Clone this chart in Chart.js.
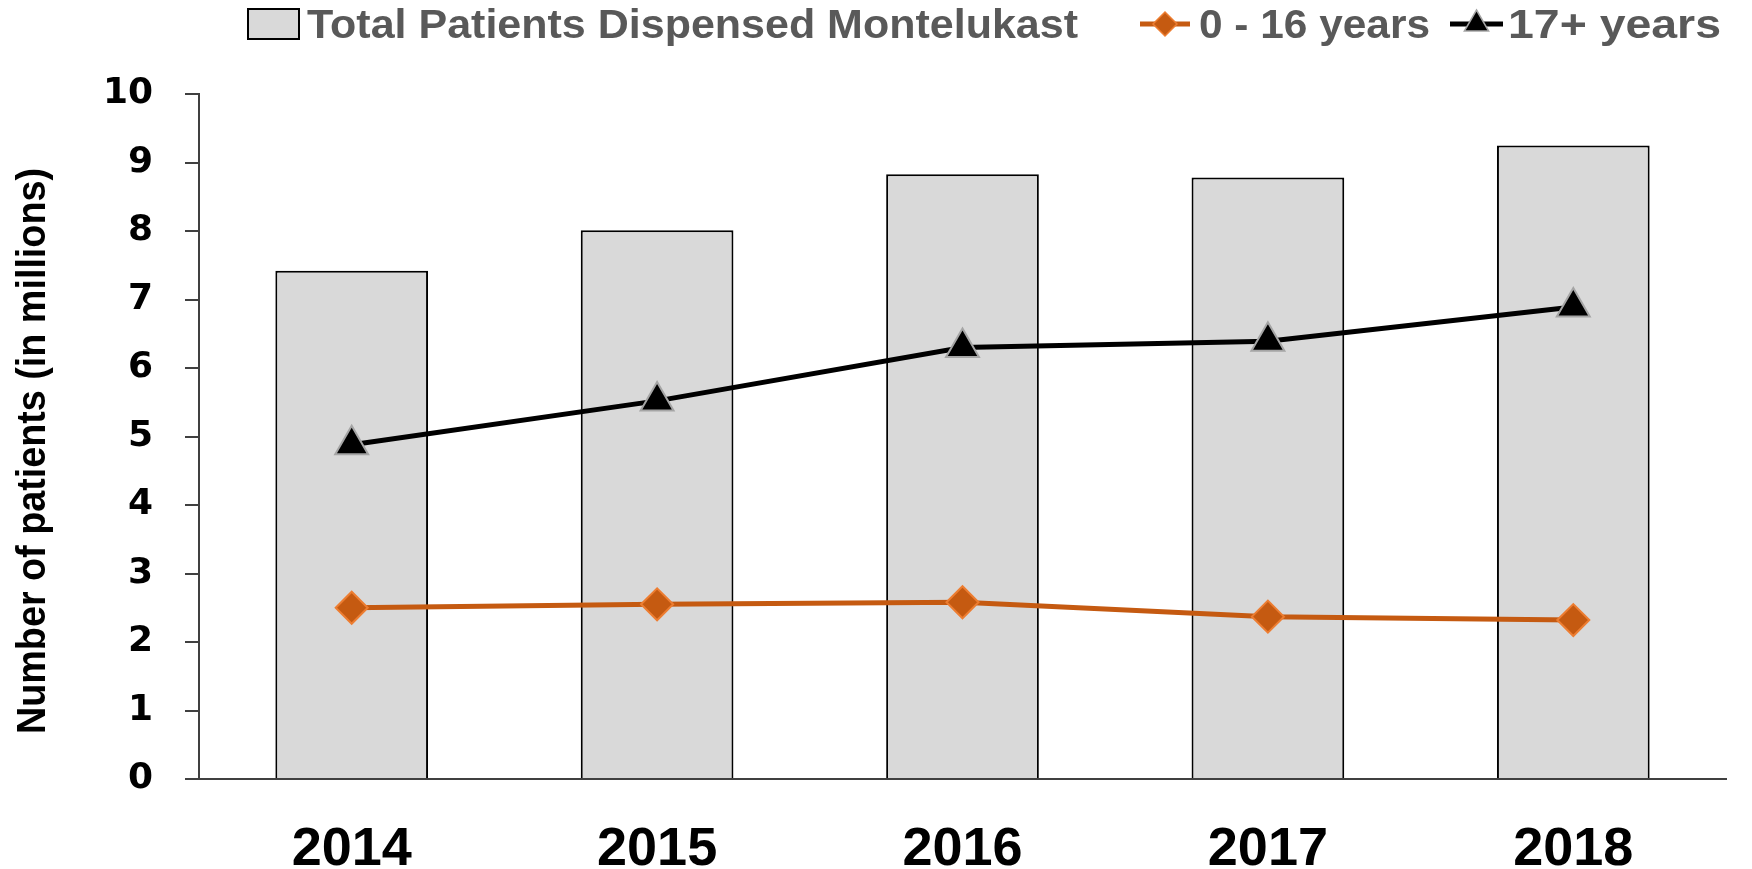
<!DOCTYPE html>
<html>
<head>
<meta charset="utf-8">
<script src="https://cdn.jsdelivr.net/npm/chart.js@4.4.1/dist/chart.umd.min.js"></script>
<style>
  html, body { margin: 0; padding: 0; background: #fff; }
  #graphe { display: block; }
</style>
</head>
<body>
<canvas id="graphe" width="1752" height="869"></canvas>
<script>
// --- Données ---
const annees = ['2014', '2015', '2016', '2017', '2018'];
const totalPatients = [7.42, 8.01, 8.83, 8.78, 9.25];
const enfants = [2.50, 2.55, 2.58, 2.37, 2.32];     // 0 - 16 ans
const adultes = [4.88, 5.52, 6.30, 6.39, 6.89];     // 17+ ans
const yMin = 0, yMax = 10, yPas = 1;
const titreY = 'Number of patients (in millions)';

const SANS = "'Liberation Sans', Arial, sans-serif";

// texte étroit : police normale compressée horizontalement à la largeur voulue
const texteEtroit = (ctx, txt, largeur) => {
    const w = ctx.measureText(txt).width;
    ctx.scale(largeur / w, 1);
    ctx.fillText(txt, 0, 0);
};

// Légende + titre de l'axe Y dessinés à la main
const legende = {
    id: 'legende',
    afterDraw(chart) {
        const ctx = chart.ctx;
        const ds = chart.data.datasets;
        const items = [
            { i: 0, type: 'box', x0: 248, x1: 299, tx: 307, tw: 771 },
            { i: 1, type: 'line', x0: 1140, x1: 1190, tx: 1199, tw: 231 },
            { i: 2, type: 'line', x0: 1450, x1: 1503, tx: 1508, tw: 213 },
        ];
        const yc = 24;
        ctx.save();
        items.forEach((it) => {
            const d = ds[it.i];
            if (it.type === 'box') {
                ctx.fillStyle = d.backgroundColor;
                ctx.strokeStyle = d.borderColor;
                ctx.lineWidth = 2;
                ctx.fillRect(it.x0, 9, it.x1 - it.x0, 30);
                ctx.strokeRect(it.x0, 9, it.x1 - it.x0, 30);
            } else {
                ctx.strokeStyle = d.borderColor;
                ctx.lineWidth = d.borderWidth;
                ctx.beginPath();
                ctx.moveTo(it.x0, yc);
                ctx.lineTo(it.x1, yc);
                ctx.stroke();
                ctx.fillStyle = d.pointBackgroundColor;
                ctx.strokeStyle = d.pointBorderColor;
                ctx.lineWidth = 1.5;
                Chart.helpers.drawPoint(ctx, {
                    pointStyle: d.pointStyle, rotation: 0,
                    radius: d.pointStyle === 'triangle' ? 14 : 12, borderWidth: 1.5,
                }, (it.x0 + it.x1) / 2, yc);
            }
            ctx.font = 'bold 41px ' + SANS;
            ctx.fillStyle = '#595959';
            ctx.textBaseline = 'alphabetic';
            ctx.save();
            ctx.translate(it.tx, 38);
            texteEtroit(ctx, d.label, it.tw);
            ctx.restore();
        });

        // titre Y (vertical)
        ctx.save();
        ctx.font = 'bold 41px ' + SANS;
        ctx.fillStyle = '#000';
        ctx.textBaseline = 'middle';
        ctx.translate(34, 734);
        ctx.rotate(-Math.PI / 2);
        texteEtroit(ctx, titreY, 566);
        ctx.restore();
        ctx.restore();
    },
};

new Chart(document.getElementById('graphe'), {
    type: 'bar',
    data: {
        labels: annees,
        datasets: [
            {
                type: 'bar',
                label: 'Total Patients Dispensed Montelukast',
                data: totalPatients,
                backgroundColor: '#D9D9D9',
                borderColor: '#000000',
                borderWidth: 2,
                categoryPercentage: 0.5,
                barPercentage: 1,
                order: 3,
            },
            {
                type: 'line',
                label: '0 - 16 years',
                data: enfants,
                borderColor: '#C55A11',
                borderWidth: 5,
                pointStyle: 'rectRot',
                pointRadius: 16,
                pointBackgroundColor: '#C55A11',
                pointBorderColor: '#ED7D31',
                pointBorderWidth: 2,
                tension: 0,
                order: 2,
            },
            {
                type: 'line',
                label: '17+ years',
                data: adultes,
                borderColor: '#000000',
                borderWidth: 5,
                pointStyle: 'triangle',
                pointRadius: 19,
                pointBackgroundColor: '#000000',
                pointBorderColor: '#A5A5A5',
                pointBorderWidth: 2,
                tension: 0,
                order: 1,
            },
        ],
    },
    options: {
        responsive: false,
        animation: false,
        layout: { padding: { top: 94, right: 26, left: 0, bottom: 0 } },
        plugins: { legend: { display: false }, tooltip: { enabled: false } },
        scales: {
            x: {
                grid: { display: false, drawTicks: false },
                border: { display: true, color: '#404040', width: 2 },
                ticks: {
                    color: '#000',
                    padding: 39,
                    font: { family: SANS, size: 54, weight: 'bold' },
                },
                afterFit: (s) => { s.height = 90; },
            },
            y: {
                min: yMin, max: yMax,
                grid: { drawOnChartArea: false, drawTicks: true, tickLength: 14, color: '#404040', lineWidth: 2 },
                border: { display: true, color: '#404040', width: 2 },
                ticks: {
                    stepSize: yPas,
                    color: '#000',
                    padding: 32,
                    font: { family: "'DejaVu Sans', Verdana, sans-serif", size: 36, weight: 'bold' },
                },
                afterFit: (s) => { s.width = 199; },
            },
        },
    },
    plugins: [legende],
});
</script>
</body>
</html>
